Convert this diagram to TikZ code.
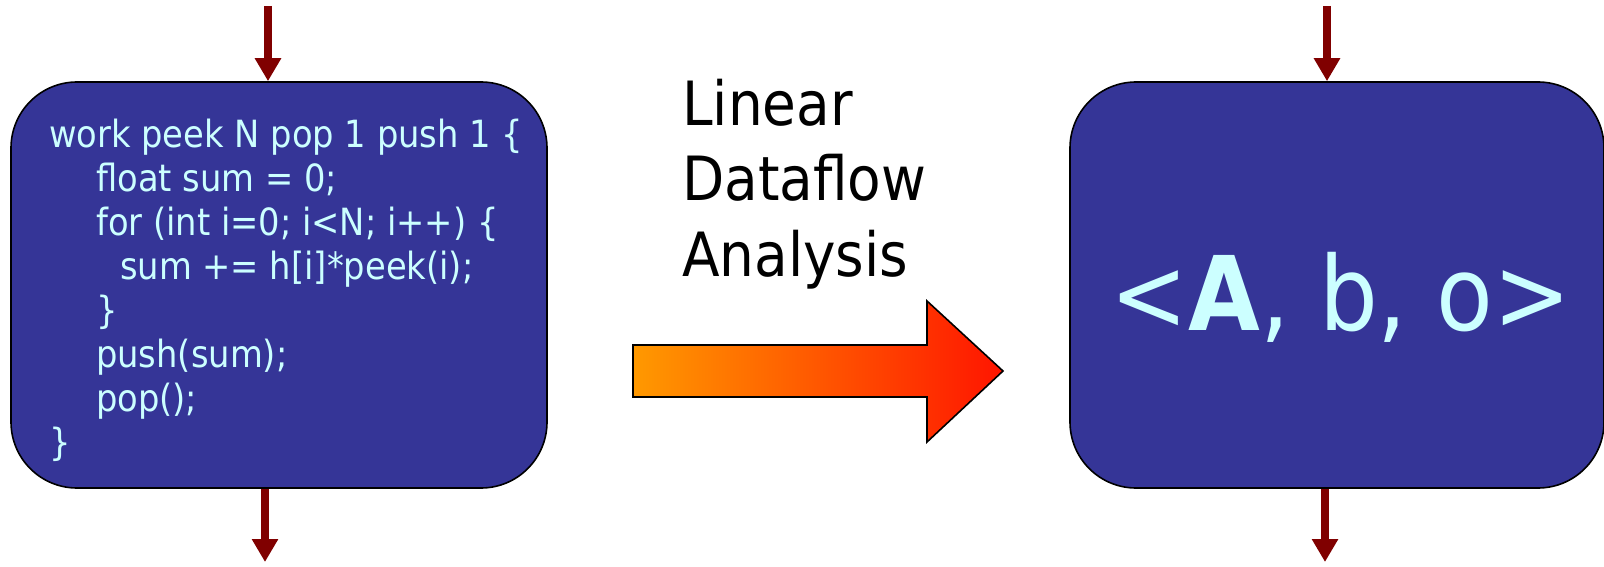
\documentclass[tikz,border=0pt]{standalone}
\usepackage{fontspec}
\setmainfont{DejaVu Sans Condensed}
\usetikzlibrary{arrows.meta}
\definecolor{filterblue}{HTML}{353597}
\definecolor{codecyan}{HTML}{CCFFFF}
\definecolor{flowred}{HTML}{800000}
\definecolor{shadeorange}{HTML}{FF9900}
\definecolor{shadered}{HTML}{FF1500}
\tikzset{
  filterbox/.style={draw=black, line width=1.6pt, fill=filterblue, rounded corners=66pt, inner sep=0pt},
  flow/.style={draw=flowred, line width=8.5pt, -{Triangle[length=23pt,width=25pt]}},
  codetext/.style={text=codecyan, inner sep=0pt, align=left, anchor=north west,
    font=\fontsize{37.5}{44}\selectfont},
  labeltext/.style={text=black, inner sep=0pt, align=left, anchor=north west,
    font=\fontsize{61}{75.5}\selectfont},
}
\begin{document}
\begin{tikzpicture}[x=1pt,y=-1pt]
\useasboundingbox[fill=white] (0,0) rectangle (1604,567);

% source filter and its linear form
\node[filterbox, minimum width=536pt, minimum height=406pt] (filter) at (279,285) {};
\node[filterbox, minimum width=534pt, minimum height=406pt] (linear) at (1337,285) {};

\node[codetext] (code) at (49,116) {\strut work peek N pop 1 push 1 \{\\
\hspace*{47pt}float sum = 0;\\
\hspace*{47pt}for (int i=0; i<N; i++) \{\\
\hspace*{71pt}sum += h[i]*peek(i);\\
\hspace*{47pt}\}\\
\hspace*{47pt}push(sum);\\
\hspace*{47pt}pop();\\
\}};

\node[text=codecyan, inner sep=0pt, anchor=base, font=\fontsize{103}{120}\selectfont]
  (triple) at (1341,330) {<\textbf{A}, b, o>};

% stream connections
\coordinate (filterin) at (268,6);
\coordinate (filterout) at (265,562);
\coordinate (linearin) at (1327,6);
\coordinate (linearout) at (1325,562);
\draw[flow] (filterin) -- (filterin |- filter.north);
\draw[flow] (filterout |- filter.south) -- (filterout);
\draw[flow] (linearin) -- (linearin |- linear.north);
\draw[flow] (linearout |- linear.south) -- (linearout);

% transformation label and arrow
\node[labeltext] (analysis) at (682,72.2) {\strut Linear\\Dataflow\\Analysis};
\path[draw=black, line width=1.6pt, left color=shadeorange, right color=shadered]
  (633,345) -- (927,345) -- (927,301) -- (1003,371) -- (927,442) -- (927,397) -- (633,397) -- cycle;
\end{tikzpicture}
\end{document}
